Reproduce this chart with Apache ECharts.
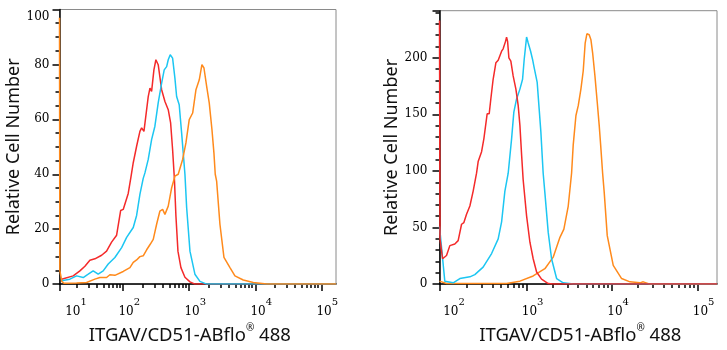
<!DOCTYPE html>
<html><head><meta charset="utf-8">
<script src="https://cdn.jsdelivr.net/npm/echarts@6/dist/echarts.min.js"></script>
<style>html,body{margin:0;padding:0;background:#fff}#c{width:727px;height:350px}</style>
</head><body><div id="c"></div>
<script>
// x values are log10(fluorescence intensity), y values are cell counts
const leftRed = [[1.067,1.8],[1.242,3],[1.344,4.8],[1.42,6.5],[1.495,8.7],[1.571,9.2],[1.673,10.5],[1.748,12],[1.824,15.3],[1.9,17.8],[1.961,26.8],[2.0,27.2],[2.026,27.5],[2.076,33],[2.117,39],[2.152,44.2],[2.203,50.2],[2.253,55.6],[2.279,56.9],[2.314,55.6],[2.379,68.3],[2.405,71.4],[2.43,70.2],[2.465,78],[2.495,81.7],[2.53,79.9],[2.582,70.8],[2.632,66.5],[2.682,63.5],[2.718,58.7],[2.748,49],[2.776,38],[2.798,25],[2.829,12],[2.874,6],[2.935,2.5],[3.011,0.8],[3.086,0],[5.223,0]];
const leftCyan = [[1.067,1.2],[1.192,1.8],[1.294,3],[1.394,2.4],[1.47,3.6],[1.545,4.8],[1.621,3.6],[1.697,4.8],[1.773,7.3],[1.874,9.7],[1.976,13.3],[2.052,17],[2.152,20.6],[2.203,25],[2.253,32.7],[2.303,38.5],[2.329,40.5],[2.379,45.4],[2.43,52.6],[2.48,57.5],[2.53,66],[2.582,73.2],[2.621,78],[2.658,79.2],[2.682,81.7],[2.712,83.5],[2.748,82.3],[2.783,75],[2.809,68.3],[2.848,65.3],[2.885,55],[2.909,47.8],[2.935,40],[2.961,27.8],[3.011,12],[3.086,3.6],[3.162,1],[3.264,0],[5.223,0]];
const leftOrange = [[1.035,97],[1.04,5],[1.07,1],[1.102,0.3],[1.294,0.4],[1.445,0.6],[1.571,1.8],[1.647,2.4],[1.748,2.4],[1.798,3.4],[1.874,3.2],[2.0,4.6],[2.102,6],[2.152,7.9],[2.203,8.8],[2.253,10],[2.303,10.3],[2.355,12.5],[2.409,14.5],[2.455,16.3],[2.506,21.8],[2.556,26.6],[2.597,27.2],[2.632,25.4],[2.682,28.4],[2.733,35],[2.783,39.3],[2.833,40],[2.859,40.5],[2.9,45.4],[2.95,51.4],[3.0,59.9],[3.052,62.3],[3.102,70.8],[3.152,74.4],[3.192,79.9],[3.223,78.7],[3.264,72],[3.303,66],[3.344,56.3],[3.374,47.8],[3.394,40],[3.415,37.5],[3.465,21.8],[3.526,9.7],[3.617,6],[3.692,3],[3.818,1.5],[3.97,0.6],[4.173,0],[5.223,0]];

const rightRed = [[1.982,233],[1.988,40],[2.018,22.4],[2.064,25.3],[2.103,34],[2.161,35.5],[2.2,38.4],[2.24,52.9],[2.267,54.4],[2.298,61.7],[2.337,69],[2.375,82],[2.415,98],[2.434,108.3],[2.474,117],[2.501,128.6],[2.539,150.5],[2.563,150.5],[2.582,163.6],[2.609,181],[2.641,195.6],[2.668,197.9],[2.688,197.9],[2.708,205.8],[2.726,207.9],[2.754,214.5],[2.766,218.3],[2.778,214.5],[2.793,200],[2.816,197],[2.843,184],[2.875,172.3],[2.902,157.7],[2.922,140.3],[2.942,114],[2.96,92.2],[3.0,60.3],[3.039,37],[3.077,22.4],[3.117,10.7],[3.175,4.4],[3.253,0.5],[3.311,0],[5.226,0]];
const rightCyan = [[1.982,51],[2.044,2.6],[2.142,1.1],[2.22,4.9],[2.337,6.4],[2.395,8.4],[2.492,15],[2.591,27],[2.668,40],[2.708,55],[2.746,82],[2.785,98],[2.825,128.6],[2.851,152],[2.883,163.6],[2.922,172.3],[2.953,181],[2.972,198.5],[3.0,218.3],[3.019,213],[3.047,205.8],[3.07,198.5],[3.085,192.7],[3.101,194.1],[3.124,178.2],[3.147,154.8],[3.167,134.5],[3.182,114],[3.194,98],[3.214,80.6],[3.253,45.7],[3.292,22.4],[3.351,4.9],[3.428,1.1],[3.545,0],[5.226,0]];
const rightOrange = [[1.982,2.6],[2.064,0.5],[2.766,0.5],[2.922,2.6],[3.077,7.2],[3.214,13.6],[3.311,23.8],[3.39,41.3],[3.436,48.6],[3.487,69],[3.526,98],[3.545,122.8],[3.577,149],[3.604,157.7],[3.635,172.3],[3.662,188.3],[3.685,213],[3.705,221.2],[3.732,220.3],[3.752,216],[3.772,204.4],[3.799,184],[3.826,160.7],[3.849,140.3],[3.866,122.8],[3.889,98],[3.908,80.6],[3.943,42.8],[4.013,16.6],[4.111,4.9],[4.208,2],[4.325,1.1],[4.364,2],[4.442,0],[5.226,0]];

// axis ranges and ticks
const leftXRange = [1.035, 5.223];
const rightXRange = [1.982, 5.226];
const leftYRange = [0, 100];
const rightYRange = [0, 241.6];
const leftXMajor = [1.035, 2, 3, 4, 5];
const leftXLabelVals = [1.035, 2, 3, 4, 5];
const leftXLabelExp = ['1', '2', '3', '4', '5'];
const leftXMinor = [1.301,1.477,1.602,1.699,1.778,1.845,1.903,1.954,2.301,2.477,2.602,2.699,2.778,2.845,2.903,2.954,3.301,3.477,3.602,3.699,3.778,3.845,3.903,3.954,4.301,4.477,4.602,4.699,4.778,4.845,4.903,4.954];
const rightXMajor = [1.982, 3, 4, 5];
const rightXLabelVals = [1.982, 3, 4, 5];
const rightXLabelExp = ['2', '3', '4', '5'];
const rightXMinor = [2.301,2.477,2.602,2.699,2.778,2.845,2.903,2.954,3.301,3.477,3.602,3.699,3.778,3.845,3.903,3.954,4.301,4.477,4.602,4.699,4.778,4.845,4.903,4.954];
const leftYMajor = [0, 20, 40, 60, 80, 100];
const leftYMinor = [5,10,15,25,30,35,45,50,55,65,70,75,85,90,95];
const rightYMajor = [0, 50, 100, 150, 200, 241.6];
const rightYLabels = [0, 50, 100, 150, 200];
const rightYMinor = [10,20,30,40,60,70,80,90,110,120,130,140,160,170,180,190,210,220,230,240];

const xTitle = '{t|ITGAV/CD51-ABflo}{r|®}{t| 488}';
const yTitle = 'Relative Cell Number';
const colors = { red: '#f42a2a', cyan: '#1cc6f2', orange: '#ff8a1c' };

const serif = 'DejaVu Serif';
const sans = 'Noto Sans';

function xLabelRich(firstPad) {
  return {
    f: { fontFamily: serif, fontSize: 12, lineHeight: 21, verticalAlign: 'bottom', color: '#000', padding: [0, 0, 0, firstPad] },
    b: { fontFamily: serif, fontSize: 12, lineHeight: 21, verticalAlign: 'bottom', color: '#000', padding: [0, 0, 0, 12] },
    s: { fontFamily: serif, fontSize: 10, lineHeight: 21, verticalAlign: 'top', color: '#000' }
  };
}
function xMajorAxis(grid, range, ticks, labelVals, labelExp, firstPad, nameShift) {
  return {
    type: 'value', gridIndex: grid, position: 'bottom', min: range[0], max: range[1],
    axisLine: { show: true, onZero: false, lineStyle: { color: '#000', width: 1.5 } },
    axisTick: { show: true, customValues: ticks, length: 7, lineStyle: { color: '#000', width: 1.5 } },
    axisLabel: {
      show: true, customValues: labelVals, margin: 13, showMinLabel: true, showMaxLabel: true,
      formatter: function (v) {
        let i = labelVals.findIndex(function (u) { return Math.abs(u - v) < 1e-6; });
        if (i < 0) return '';
        return (i === 0 ? '{f|10}' : '{b|10}') + '{s|' + labelExp[i] + '}';
      },
      rich: xLabelRich(firstPad)
    },
    splitLine: { show: false },
    name: xTitle, nameLocation: 'middle', nameGap: 36,
    nameTextStyle: {
      padding: nameShift,
      rich: {
        t: { fontFamily: sans, fontSize: 18.5, color: '#111', lineHeight: 22, verticalAlign: 'bottom' },
        r: { fontFamily: sans, fontSize: 10, color: '#111', lineHeight: 22, verticalAlign: 'top' }
      }
    }
  };
}
function xMinorAxis(grid, range, ticks) {
  return {
    type: 'value', gridIndex: grid, position: 'bottom', min: range[0], max: range[1],
    axisLine: { show: false }, axisLabel: { show: false }, splitLine: { show: false },
    axisTick: { show: true, customValues: ticks, length: 4, lineStyle: { color: '#000', width: 1.5 } }
  };
}
function yMajorAxis(grid, range, ticks, labels, margin, gap, topPad) {
  return {
    type: 'value', gridIndex: grid, position: 'left', min: range[0], max: range[1],
    axisLine: { show: true, onZero: false, lineStyle: { color: '#000', width: 1.5 } },
    axisTick: { show: true, customValues: ticks, length: 7, lineStyle: { color: '#000', width: 1.5 } },
    axisLabel: {
      show: true, customValues: labels, margin: margin, showMinLabel: true, showMaxLabel: true,
      formatter: function (v) { return (v === range[1] && topPad) ? '{p|' + v + '}' : '{n|' + v + '}'; },
      rich: {
        n: { fontFamily: serif, fontSize: 12, color: '#000' },
        p: { fontFamily: serif, fontSize: 12, color: '#000', padding: [topPad || 0, 0, 0, 0] }
      }
    },
    splitLine: { show: false },
    name: yTitle, nameLocation: 'middle', nameGap: gap,
    nameTextStyle: { fontFamily: sans, fontSize: 18, color: '#111' }
  };
}
function yMinorAxis(grid, range, ticks) {
  return {
    type: 'value', gridIndex: grid, position: 'left', min: range[0], max: range[1],
    axisLine: { show: false }, axisLabel: { show: false }, splitLine: { show: false },
    axisTick: { show: true, customValues: ticks, length: 4, lineStyle: { color: '#000', width: 1.5 } }
  };
}
function line(data, color, xi, yi) {
  return {
    type: 'line', data: data, xAxisIndex: xi, yAxisIndex: yi, showSymbol: false, symbol: 'none',
    smooth: false, animation: false, lineStyle: { color: color, width: 1.5 }, itemStyle: { color: color }
  };
}

const chart = echarts.init(document.getElementById('c'), null, { renderer: 'canvas' });
chart.setOption({
  animation: false,
  backgroundColor: '#fff',
  grid: [
    { left: 59.5, top: 9.5, width: 276.5, height: 275.5, show: true, borderColor: '#8a8a8a', borderWidth: 1, backgroundColor: 'transparent' },
    { left: 439.5, top: 10.7, width: 277.5, height: 276.6, show: true, borderColor: '#8a8a8a', borderWidth: 1, backgroundColor: 'transparent' }
  ],
  xAxis: [
    xMajorAxis(0, leftXRange, leftXMajor, leftXLabelVals, leftXLabelExp, 33, [0, 16, 0, 0]),
    xMinorAxis(0, leftXRange, leftXMinor),
    xMajorAxis(1, rightXRange, rightXMajor, rightXLabelVals, rightXLabelExp, 29, [0, 0, 0, 4]),
    xMinorAxis(1, rightXRange, rightXMinor)
  ],
  yAxis: [
    yMajorAxis(0, leftYRange, leftYMajor, leftYMajor, 10, 33, 14),
    yMinorAxis(0, leftYRange, leftYMinor),
    yMajorAxis(1, rightYRange, rightYMajor, rightYLabels, 12, 38, 0),
    yMinorAxis(1, rightYRange, rightYMinor)
  ],
  series: [
    line(leftRed, colors.red, 0, 0),
    line(leftCyan, colors.cyan, 0, 0),
    line(leftOrange, colors.orange, 0, 0),
    line(rightOrange, colors.orange, 2, 2),
    line(rightCyan, colors.cyan, 2, 2),
    line(rightRed, colors.red, 2, 2)
  ]
});
</script>
</body></html>
